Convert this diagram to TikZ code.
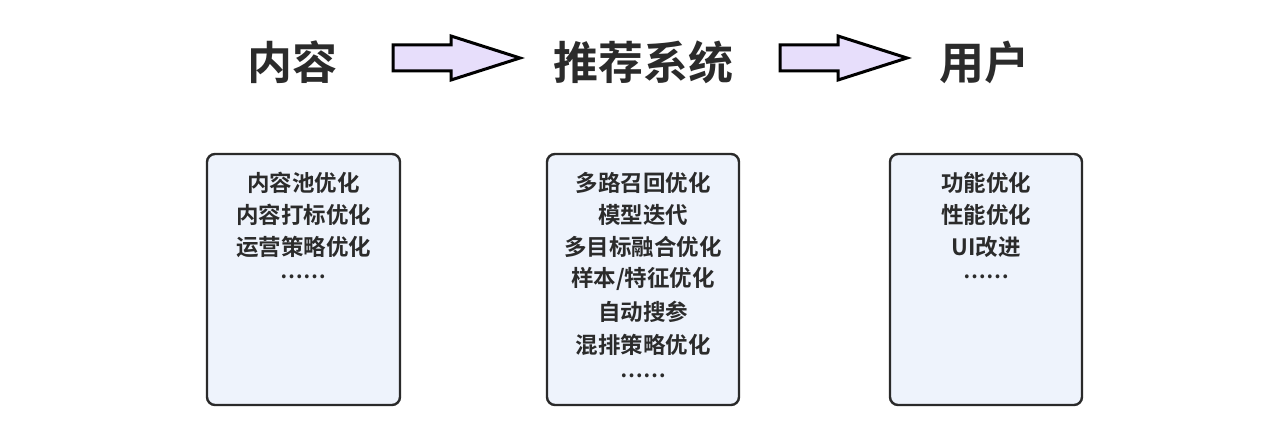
\documentclass[tikz,border=0pt]{standalone}
\usepackage{fontspec}
\newfontfamily\cjk{Noto Sans CJK SC}[BoldFont={Noto Sans CJK SC Bold}]
\definecolor{txt}{HTML}{2B2B2B}
\definecolor{boxfill}{HTML}{EEF3FC}
\definecolor{boxline}{HTML}{2A2A2A}
\definecolor{arrowfill}{HTML}{E7DEFB}
\begin{document}
\begin{tikzpicture}[x=1pt,y=-1pt,
  title/.style={font=\cjk\bfseries\fontsize{45}{50}\selectfont, text=txt, inner sep=0pt},
  panel/.style={draw=boxline, line width=2.4pt, fill=boxfill, rounded corners=8pt},
  item/.style={font=\cjk\bfseries\fontsize{22.5}{26}\selectfont, text=txt, inner sep=0pt},
  dots/.style={font=\cjk\bfseries\fontsize{20.5}{24}\selectfont, text=txt, inner sep=0pt},
  blockarrow/.style={draw=black, line width=3pt, fill=arrowfill, line join=miter}]
\useasboundingbox (0,0) rectangle (1280,446);
\fill[white] (0,0) rectangle (1280,446);

\node[title] (t1) at (292,62) {内容};
\node[title] (t2) at (643,62) {推荐系统};
\node[title] (t3) at (984,62) {用户};

% block arrows
\draw[blockarrow] (393,45) -- (451,45) -- (451,36) -- (520,58) -- (451,80) -- (451,71) -- (393,71) -- cycle;
\draw[blockarrow] (780,45) -- (838,45) -- (838,36) -- (907,58) -- (838,80) -- (838,71) -- (780,71) -- cycle;

% panels
\draw[panel] (207,154) rectangle (400,405);
\draw[panel] (547,154) rectangle (739,405);
\draw[panel] (890,154) rectangle (1082,405);

\node[item] (a1) at (303.5,183) {内容池优化};
\node[item] (a2) at (303.5,215) {内容打标优化};
\node[item] (a3) at (303.5,247) {运营策略优化};
\node[dots] (a4) at (303.5,277) {……};

\node[item] (b1) at (643,183) {多路召回优化};
\node[item] (b2) at (643,215) {模型迭代};
\node[item] (b3) at (643,247) {多目标融合优化};
\node[item] (b4) at (643,279) {样本/特征优化};
\node[item] (b5) at (643,312) {自动搜参};
\node[item] (b6) at (643,345) {混排策略优化};
\node[dots] (b7) at (643,376) {……};

\node[item] (c1) at (986,183) {功能优化};
\node[item] (c2) at (986,215) {性能优化};
\node[item] (c3) at (986,247) {UI改进};
\node[dots] (c4) at (986,277) {……};
\end{tikzpicture}
\end{document}
